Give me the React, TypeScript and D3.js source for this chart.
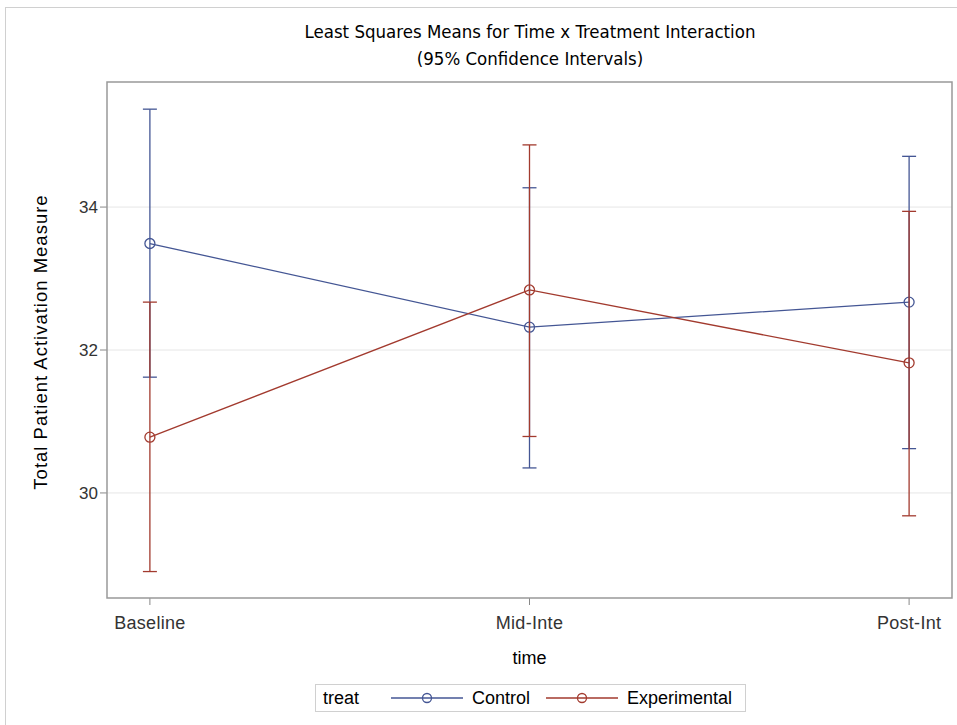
import * as d3 from "d3";
import React from "react";

const WIDTH = 957;
const HEIGHT = 725;

const MARGIN = { left: 107, top: 82, right: 5, bottom: 127 };

const TIMES = ["Baseline", "Mid-Inte", "Post-Int"];
const Y_TICKS = [30, 32, 34];

// LS means and 95% CI
const CONTROL_MEAN = [33.49, 32.32, 32.67];
const CONTROL_LOWER = [31.62, 30.35, 30.62];
const CONTROL_UPPER = [35.37, 34.27, 34.71];

const EXP_MEAN = [30.78, 32.84, 31.82];
const EXP_LOWER = [28.9, 30.79, 29.68];
const EXP_UPPER = [32.67, 34.87, 33.94];

const SERIES = [
  { name: "Control", color: "#445694", mean: CONTROL_MEAN, lower: CONTROL_LOWER, upper: CONTROL_UPPER },
  { name: "Experimental", color: "#A23A2E", mean: EXP_MEAN, lower: EXP_LOWER, upper: EXP_UPPER },
];

const SANS = "Arial, 'Liberation Sans', sans-serif";
const TITLE_FONT = "'Liberation Sans Narrow', 'DejaVu Sans Condensed', Arial, sans-serif";

export default function App() {
  const boundsWidth = WIDTH - MARGIN.left - MARGIN.right;
  const boundsHeight = HEIGHT - MARGIN.top - MARGIN.bottom;

  const xScale = d3.scalePoint<string>().domain(TIMES).range([0, boundsWidth]).padding(0.113);
  const yScale = d3.scaleLinear().domain([28.53, 35.75]).range([boundsHeight, 0]);

  const line = d3
    .line<number>()
    .x((_, i) => xScale(TIMES[i]) as number)
    .y((d) => yScale(d));

  const cap = 7;

  return (
    <svg width={WIDTH} height={HEIGHT} style={{ position: "absolute", left: 0, top: 0, background: "#fff" }}>
      <rect x={5.5} y={7.5} width={WIDTH} height={HEIGHT} fill="#fff" stroke="#d0d0d0" />
      <text x={530} y={38} textAnchor="middle" fontFamily={TITLE_FONT} fontSize={18.5} fill="#000">
        Least Squares Means for Time x Treatment Interaction
      </text>
      <text x={530} y={65} textAnchor="middle" fontFamily={TITLE_FONT} fontSize={18.5} fill="#000">
        (95% Confidence Intervals)
      </text>

      <g transform={`translate(${MARGIN.left},${MARGIN.top})`}>
        {Y_TICKS.map((t) => (
          <g key={t}>
            <line x1={0} x2={boundsWidth} y1={yScale(t)} y2={yScale(t)} stroke="#e6e6e6" />
            <line x1={-7} x2={0} y1={yScale(t)} y2={yScale(t)} stroke="#888" />
            <text x={-9} y={yScale(t)} dy="0.36em" textAnchor="end" fontFamily={SANS} fontSize={17} fill="#333">
              {t}
            </text>
          </g>
        ))}
        {TIMES.map((t) => (
          <g key={t}>
            <line x1={xScale(t)} x2={xScale(t)} y1={boundsHeight} y2={boundsHeight + 7} stroke="#888" />
            <text
              x={xScale(t)}
              y={boundsHeight + 31}
              textAnchor="middle"
              fontFamily={SANS}
              fontSize={18}
              letterSpacing={0.3}
              fill="#333"
            >
              {t}
            </text>
          </g>
        ))}

        {SERIES.map((s) => (
          <g key={s.name} stroke={s.color} fill="none" strokeWidth={1.3}>
            {TIMES.map((t, i) => {
              const x = xScale(t) as number;
              return (
                <g key={t}>
                  <line x1={x} x2={x} y1={yScale(s.lower[i])} y2={yScale(s.upper[i])} />
                  <line x1={x - cap} x2={x + cap} y1={yScale(s.lower[i])} y2={yScale(s.lower[i])} />
                  <line x1={x - cap} x2={x + cap} y1={yScale(s.upper[i])} y2={yScale(s.upper[i])} />
                </g>
              );
            })}
            <path d={line(s.mean) ?? ""} />
            {s.mean.map((m, i) => (
              <circle key={i} cx={xScale(TIMES[i])} cy={yScale(m)} r={5} />
            ))}
          </g>
        ))}

        <rect x={0} y={0} width={boundsWidth} height={boundsHeight} fill="none" stroke="#999" strokeWidth={1.5} />

        <text
          transform={`translate(${-60},${boundsHeight / 2 + 2}) rotate(-90)`}
          textAnchor="middle"
          fontFamily={SANS}
          fontSize={18.5}
          letterSpacing={1}
          fill="#000"
        >
          Total Patient Activation Measure
        </text>
        <text x={xScale("Mid-Inte")} y={boundsHeight + 66} textAnchor="middle" fontFamily={SANS} fontSize={18} fill="#000">
          time
        </text>
      </g>

      <g transform="translate(315,684)">
        <rect x={0.5} y={0.5} width={430} height={27} fill="#fff" stroke="#d0d0d0" />
        <text x={8} y={20} fontFamily={SANS} fontSize={18} fill="#000">
          treat
        </text>
        {SERIES.map((s, i) => {
          const x0 = i === 0 ? 76 : 231;
          return (
            <g key={s.name}>
              <line x1={x0} x2={x0 + 72} y1={14} y2={14} stroke={s.color} strokeWidth={1.3} />
              <circle cx={x0 + 36} cy={14} r={4.5} fill="none" stroke={s.color} strokeWidth={1.3} />
              <text x={x0 + 81} y={20} fontFamily={SANS} fontSize={18} fill="#000">
                {s.name}
              </text>
            </g>
          );
        })}
      </g>
    </svg>
  );
}
